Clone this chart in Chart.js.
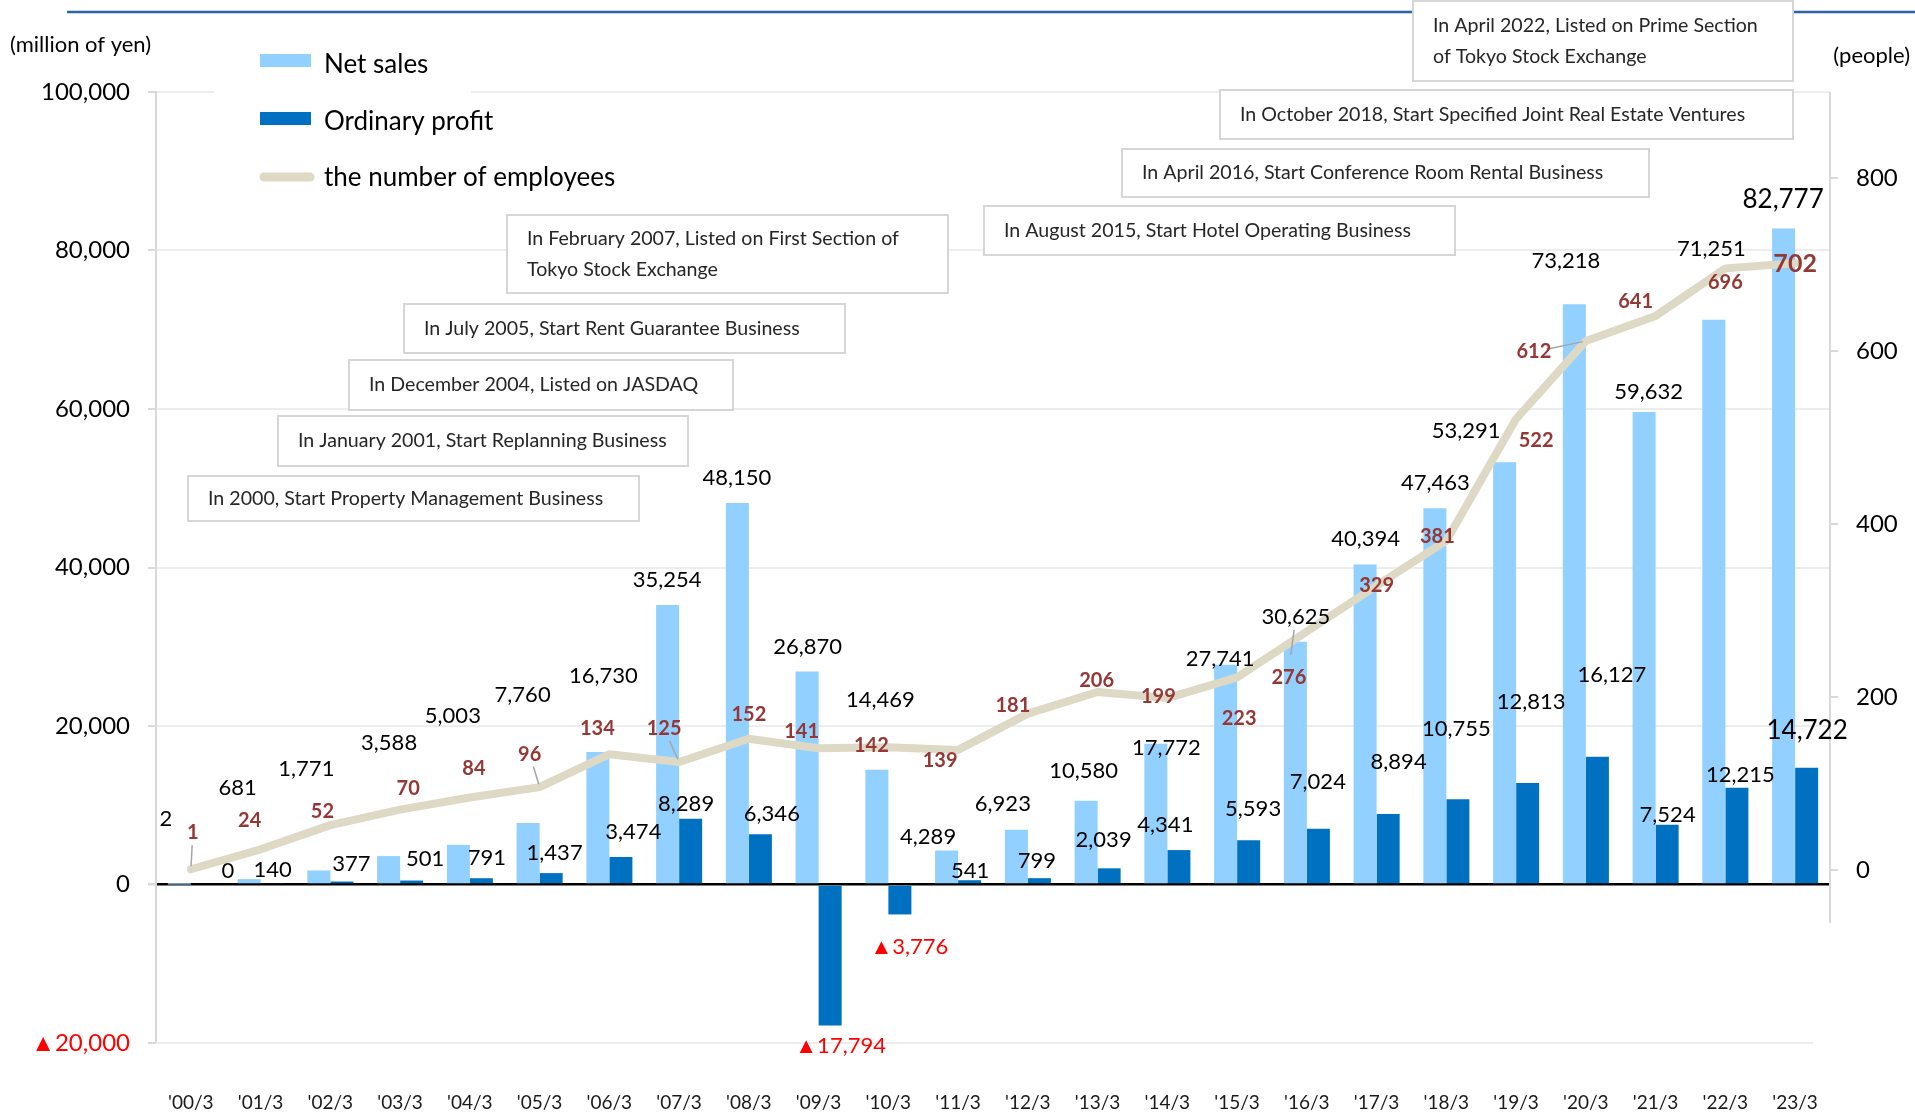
<!DOCTYPE html>
<html>
<head>
<meta charset="utf-8">
<script src="https://cdn.jsdelivr.net/npm/chart.js@4.4.0/dist/chart.umd.min.js"></script>
<style>
  html, body { margin: 0; padding: 0; background: #fff; }
  #chart { display: block; }
</style>
</head>
<body>
<canvas id="chart" width="1915" height="1112"></canvas>
<script>
const years = ["'00/3", "'01/3", "'02/3", "'03/3", "'04/3", "'05/3", "'06/3", "'07/3", "'08/3", "'09/3", "'10/3", "'11/3",
               "'12/3", "'13/3", "'14/3", "'15/3", "'16/3", "'17/3", "'18/3", "'19/3", "'20/3", "'21/3", "'22/3", "'23/3"];
const netSales = [2, 681, 1771, 3588, 5003, 7760, 16730, 35254, 48150, 26870, 14469, 4289,
                  6923, 10580, 17772, 27741, 30625, 40394, 47463, 53291, 73218, 59632, 71251, 82777];
const ordinaryProfit = [0, 140, 377, 501, 791, 1437, 3474, 8289, 6346, -17794, -3776, 541,
                        799, 2039, 4341, 5593, 7024, 8894, 10755, 12813, 16127, 7524, 12215, 14722];
const employees = [1, 24, 52, 70, 84, 96, 134, 125, 152, 141, 142, 139,
                   181, 206, 199, 223, 276, 329, 381, 522, 612, 641, 696, 702];
const yenTicks = [-20000, 0, 20000, 40000, 60000, 80000, 100000];
const peopleTicks = [0, 200, 400, 600, 800];

// where each value label sits relative to its bar top / line point (px)
const salesShift = [[-25, -66], [-23, -91], [-24, -102], [-11, -113], [-17, -129], [-17, -128], [-6, -76], [-12, -25],
                    [-12, -25], [-11, -25], [-8, -70], [-30, -14], [-25, -26], [-14, -30], [-1, 4], [-17, -6],
                    [-11, -25], [-11, -25], [-11, -25], [-50, -31], [-20, -43], [-7, -20], [-14, -71], [-12, -29]];
const profitShift = [[37, -14], [12, -13], [21, -18], [25, -22], [17, -20], [15, -20], [24, -25], [7, -15],
                     [23, -20], [22, 20], [21, 32], [12, -9], [9, -17], [6, -28], [-2, -25], [16, -31],
                     [11, -47], [22, -52], [10, -70], [15, -81], [26, -82], [12, -10], [15, -13], [12, -37]];
const staffShift = [[2, -37], [-11, -29], [-8, -14], [8, -21], [4, -29], [-10, -33], [-12, -26], [-15, -33],
                    [0, -24], [-17, -17], [-17, -2], [-18, 11], [-15, -8], [-1, -11], [-9, -1], [2, 41],
                    [-18, 46], [0, 0], [-9, -4], [20, 22], [-52, 11], [-20, -14], [0, 14], [0, 1]];
const leaders = [['staff', 0], ['staff', 5], ['staff', 7], ['sales', 16], ['staff', 20]];

const milestones = [
  { text: ['In 2000, Start Property Management Business'], x: 188, y: 476, w: 451, h: 45 },
  { text: ['In January 2001, Start Replanning Business'], x: 278, y: 416, w: 410, h: 50 },
  { text: ['In December 2004, Listed on JASDAQ'], x: 349, y: 360, w: 384, h: 50 },
  { text: ['In July 2005, Start Rent Guarantee Business'], x: 404, y: 304, w: 441, h: 49 },
  { text: ['In February 2007, Listed on First Section of', 'Tokyo Stock Exchange'], x: 507, y: 215, w: 441, h: 78 },
  { text: ['In August 2015, Start Hotel Operating Business'], x: 984, y: 206, w: 471, h: 49 },
  { text: ['In April 2016, Start Conference Room Rental Business'], x: 1122, y: 149, w: 527, h: 48 },
  { text: ['In October 2018, Start Specified Joint Real Estate Ventures'], x: 1220, y: 90, w: 573, h: 49 },
  { text: ['In April 2022, Listed on Prime Section', 'of Tokyo Stock Exchange'], x: 1413, y: 1, w: 380, h: 80 }
];

const FONT = 'Lato, "Noto Sans", sans-serif';
const SALES_COLOR = '#92D0FF';
const PROFIT_COLOR = '#0070C0';
const STAFF_COLOR = '#DDD9C4';
const GRID_COLOR = '#EDEDED';

function yen(v) {
  return v < 0 ? '\u25B2' + Math.abs(v).toLocaleString('en-US') : v.toLocaleString('en-US');
}

function anchorOf(chart, kind, i) {
  const x = chart.scales.x.getPixelForValue(i);
  if (kind === 'staff') return [x, chart.scales.y1.getPixelForValue(employees[i])];
  const v = kind === 'sales' ? netSales[i] : ordinaryProfit[i];
  return [x, chart.scales.y.getPixelForValue(v)];
}

function labelPos(chart, kind, i) {
  const [ax, ay] = anchorOf(chart, kind, i);
  const s = kind === 'staff' ? staffShift[i] : kind === 'sales' ? salesShift[i] : profitShift[i];
  return [ax + s[0], ay + s[1]];
}

const overlay = {
  id: 'overlay',
  beforeDatasetsDraw(chart) {
    const ctx = chart.ctx;
    const area = chart.chartArea;
    ctx.save();

    // blue rule along the top
    ctx.strokeStyle = '#2A63AC';
    ctx.lineWidth = 2.5;
    ctx.beginPath();
    ctx.moveTo(67, 12);
    ctx.lineTo(1915, 12);
    ctx.stroke();

    // bottom gridline stops before the right axis
    const yb = chart.scales.y.getPixelForValue(yenTicks[0]);
    ctx.strokeStyle = GRID_COLOR;
    ctx.lineWidth = 2;
    ctx.beginPath();
    ctx.moveTo(area.left, yb);
    ctx.lineTo(1813, yb);
    ctx.stroke();

    // right axis line (stops short of the bottom)
    ctx.strokeStyle = '#D9D9D9';
    ctx.beginPath();
    ctx.moveTo(area.right, area.top);
    ctx.lineTo(area.right, 923);
    ctx.stroke();

    // units
    ctx.fillStyle = '#000';
    ctx.font = '22px ' + FONT;
    ctx.textBaseline = 'middle';
    ctx.textAlign = 'left';
    ctx.fillText('(million of yen)', 10, 45);
    ctx.textAlign = 'right';
    ctx.fillText('(people)', 1910, 56);

    // legend
    ctx.fillStyle = '#fff';
    ctx.fillRect(214, 40, 257, 160);
    ctx.fillStyle = SALES_COLOR;
    ctx.fillRect(260, 54, 51, 13);
    ctx.fillStyle = PROFIT_COLOR;
    ctx.fillRect(260, 112, 51, 13);
    ctx.strokeStyle = STAFF_COLOR;
    ctx.lineWidth = 9;
    ctx.lineCap = 'round';
    ctx.beginPath();
    ctx.moveTo(264, 177);
    ctx.lineTo(310, 177);
    ctx.stroke();
    ctx.lineCap = 'butt';
    ctx.fillStyle = '#000';
    ctx.font = '26px ' + FONT;
    ctx.textAlign = 'left';
    ctx.fillText('Net sales', 324, 65);
    ctx.fillText('Ordinary profit', 324, 122);
    ctx.fillText('the number of employees', 324, 178);

    // milestone boxes
    ctx.font = '19.6px ' + FONT;
    milestones.forEach(m => {
      ctx.fillStyle = '#fff';
      ctx.fillRect(m.x, m.y, m.w, m.h);
      ctx.strokeStyle = '#D6D6D6';
      ctx.lineWidth = 2;
      ctx.strokeRect(m.x, m.y, m.w, m.h);
      ctx.fillStyle = '#262626';
      const mid = m.y + m.h / 2;
      if (m.text.length === 1) {
        ctx.fillText(m.text[0], m.x + 20, mid);
      } else {
        ctx.fillText(m.text[0], m.x + 20, mid - 15.5);
        ctx.fillText(m.text[1], m.x + 20, mid + 15.5);
      }
    });
    ctx.restore();
  },
  afterDatasetsDraw(chart) {
    const ctx = chart.ctx;
    const last = years.length - 1;
    ctx.save();

    // leader lines
    ctx.strokeStyle = '#A6A6A6';
    ctx.lineWidth = 1.5;
    leaders.forEach(([kind, i]) => {
      let [ax, ay] = anchorOf(chart, kind, i);
      if (kind === 'sales') {
        const bar = chart.getDatasetMeta(0).data[i];
        ax = bar.x - 5;
        ay = bar.y + 16;
      }
      const [lx, ly] = labelPos(chart, kind, i);
      const dx = ax - lx, dy = ay - ly;
      const len = Math.hypot(dx, dy);
      ctx.beginPath();
      ctx.moveTo(lx + dx / len * 13, ly + dy / len * 13);
      ctx.lineTo(ax - dx / len * 3, ay - dy / len * 3);
      ctx.stroke();
    });

    ctx.textAlign = 'center';
    ctx.textBaseline = 'middle';

    netSales.forEach((v, i) => {
      const [x, y] = labelPos(chart, 'sales', i);
      ctx.font = (i === last ? '26px ' : '22px ') + FONT;
      ctx.fillStyle = '#000';
      ctx.fillText(yen(v), x, y);
    });

    ordinaryProfit.forEach((v, i) => {
      const [x, y] = labelPos(chart, 'profit', i);
      ctx.font = (i === last ? '26px ' : '22px ') + FONT;
      ctx.fillStyle = v < 0 ? '#FF0000' : '#000';
      ctx.fillText(yen(v), x, y);
    });

    employees.forEach((v, i) => {
      const [x, y] = labelPos(chart, 'staff', i);
      ctx.font = (i === last ? 'bold 25px ' : 'bold 20px ') + FONT;
      ctx.fillStyle = '#953735';
      ctx.fillText(String(v), x, y);
    });
    ctx.restore();
  }
};

Chart.defaults.font.family = FONT;
Chart.defaults.color = '#000';

const chart = new Chart(document.getElementById('chart'), {
  type: 'bar',
  data: {
    labels: years,
    datasets: [
      {
        label: 'Net sales',
        data: netSales,
        backgroundColor: SALES_COLOR,
        yAxisID: 'y',
        order: 2
      },
      {
        label: 'Ordinary profit',
        data: ordinaryProfit,
        backgroundColor: PROFIT_COLOR,
        yAxisID: 'y',
        order: 2
      },
      {
        type: 'line',
        label: 'the number of employees',
        data: employees,
        borderColor: STAFF_COLOR,
        borderWidth: 8,
        borderJoinStyle: 'round',
        borderCapStyle: 'round',
        pointRadius: 0,
        tension: 0,
        yAxisID: 'y1',
        order: 1
      }
    ]
  },
  options: {
    responsive: false,
    animation: false,
    devicePixelRatio: 1,
    events: [],
    layout: { padding: { top: 92, left: 0, right: 0, bottom: 0 } },
    datasets: {
      bar: { categoryPercentage: 0.66, barPercentage: 1.0 }
    },
    plugins: {
      legend: { display: false },
      tooltip: { enabled: false }
    },
    scales: {
      x: {
        grid: { display: false, drawTicks: false },
        border: { display: false },
        ticks: { font: { size: 19 }, color: '#1a1a1a', padding: 48, maxRotation: 0, autoSkip: false },
        afterFit(s) { s.height = 69; }
      },
      y: {
        position: 'left',
        min: -20000,
        max: 100000,
        afterBuildTicks(s) { s.ticks = yenTicks.map(v => ({ value: v })); },
        afterFit(s) { s.width = 156; },
        grid: {
          color: c => {
            if (!c.tick) return GRID_COLOR;
            if (c.tick.value === 0) return '#000';
            if (c.tick.value === yenTicks[0]) return 'rgba(0,0,0,0)';
            return GRID_COLOR;
          },
          lineWidth: c => c.tick && c.tick.value === 0 ? 2.5 : 2,
          tickLength: 8,
          tickColor: '#D9D9D9'
        },
        border: { color: '#D9D9D9', width: 2 },
        ticks: {
          font: { size: 24 },
          padding: 18,
          color: c => c.tick.value < 0 ? '#FF0000' : '#000',
          callback: v => yen(v)
        }
      },
      y1: {
        position: 'right',
        min: -200,
        max: 900,
        afterBuildTicks(s) { s.ticks = peopleTicks.map(v => ({ value: v })); },
        afterFit(s) { s.width = 85; },
        grid: { drawOnChartArea: false, tickLength: 8, tickColor: '#D9D9D9', lineWidth: 2 },
        border: { display: false },
        ticks: { font: { size: 24 }, padding: 18, color: '#000' }
      }
    }
  },
  plugins: [overlay]
});
</script>
</body>
</html>
